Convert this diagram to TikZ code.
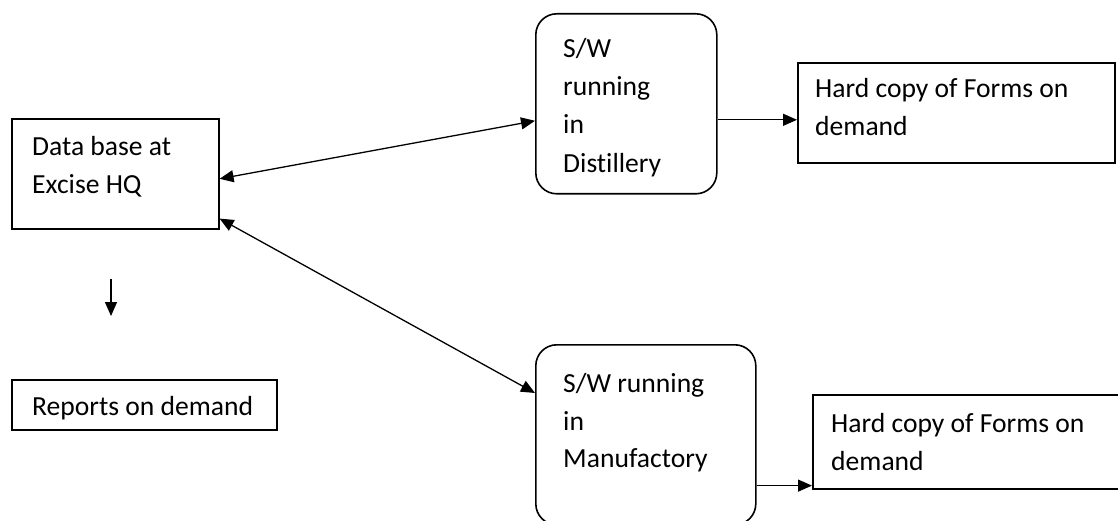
\documentclass[tikz,border=0pt]{standalone}
\usepackage{fontspec}
\setmainfont[Ligatures=NoCommon]{Carlito}
\usetikzlibrary{arrows.meta,calc}
\begin{document}
\begin{tikzpicture}[x=1pt,y=-1pt,
  box/.style={draw,line width=1.6pt,anchor=north west,inner sep=0pt},
  rbox/.style={box,rounded corners=21pt},
  txt/.style={anchor=base west,inner sep=0pt,font=\fontsize{27.6}{32}\selectfont},
  conn/.style={line width=1.3pt,-{Triangle[length=14pt,width=12pt]}},
  bconn/.style={line width=1.3pt,{Triangle[length=14pt,width=12pt]}-{Triangle[length=14pt,width=12pt]}}]
\useasboundingbox (0,0) rectangle (1118,521);
\fill[white] (0,0) rectangle (1118,521);
% boxes
\node[box,minimum width=207pt,minimum height=110pt] (db) at (11,118) {};
\node[rbox,minimum width=181pt,minimum height=180pt] (dist) at (535,13) {};
\node[box,minimum width=317pt,minimum height=100pt] (hc1) at (797,62) {};
\node[rbox,minimum width=220pt,minimum height=180pt] (mf) at (535,344) {};
\node[box,minimum width=320pt,minimum height=94pt] (hc2) at (812,394) {};
\node[box,minimum width=265pt,minimum height=50pt] (rep) at (11,379) {};
% texts
\node[txt] (db1) at (32,156) {Data base at};
\node[txt] (db2) at (32,194) {Excise HQ};
\node[txt] (d1) at (563,58) {S/W};
\node[txt] (d2) at (563,96) {running};
\node[txt] (d3) at (563,134) {in};
\node[txt] (d4) at (563,173) {Distillery};
\node[txt] (h1a) at (815,98) {Hard copy of Forms on};
\node[txt] (h1b) at (815,136) {demand};
\node[txt] (m1) at (563,392) {S/W running};
\node[txt] (m2) at (563,430) {in};
\node[txt] (m3) at (563,467) {Manufactory};
\node[txt] (h2a) at (831,432) {Hard copy of Forms on};
\node[txt] (h2b) at (831,470) {demand};
\node[txt] (r1) at (32,415) {Reports on demand};
% connectors
\draw[bconn] ([yshift=-5pt]db.east) -- ([yshift=-17pt]dist.west);
\draw[bconn] ([yshift=11pt]db.south east) -- ([yshift=-49pt]mf.north west);
\draw[conn] ([yshift=-16pt]dist.east) -- ([yshift=-16pt]dist.east -| hc1.west);
\draw[conn] ([yshift=4pt]hc2.south west -| mf.east) -- ([yshift=4pt]hc2.south west);
\coordinate (dtop) at (111,279);
\coordinate (dbot) at (111,316);
\draw[conn] (dtop) -- (dbot);
\end{tikzpicture}
\end{document}
